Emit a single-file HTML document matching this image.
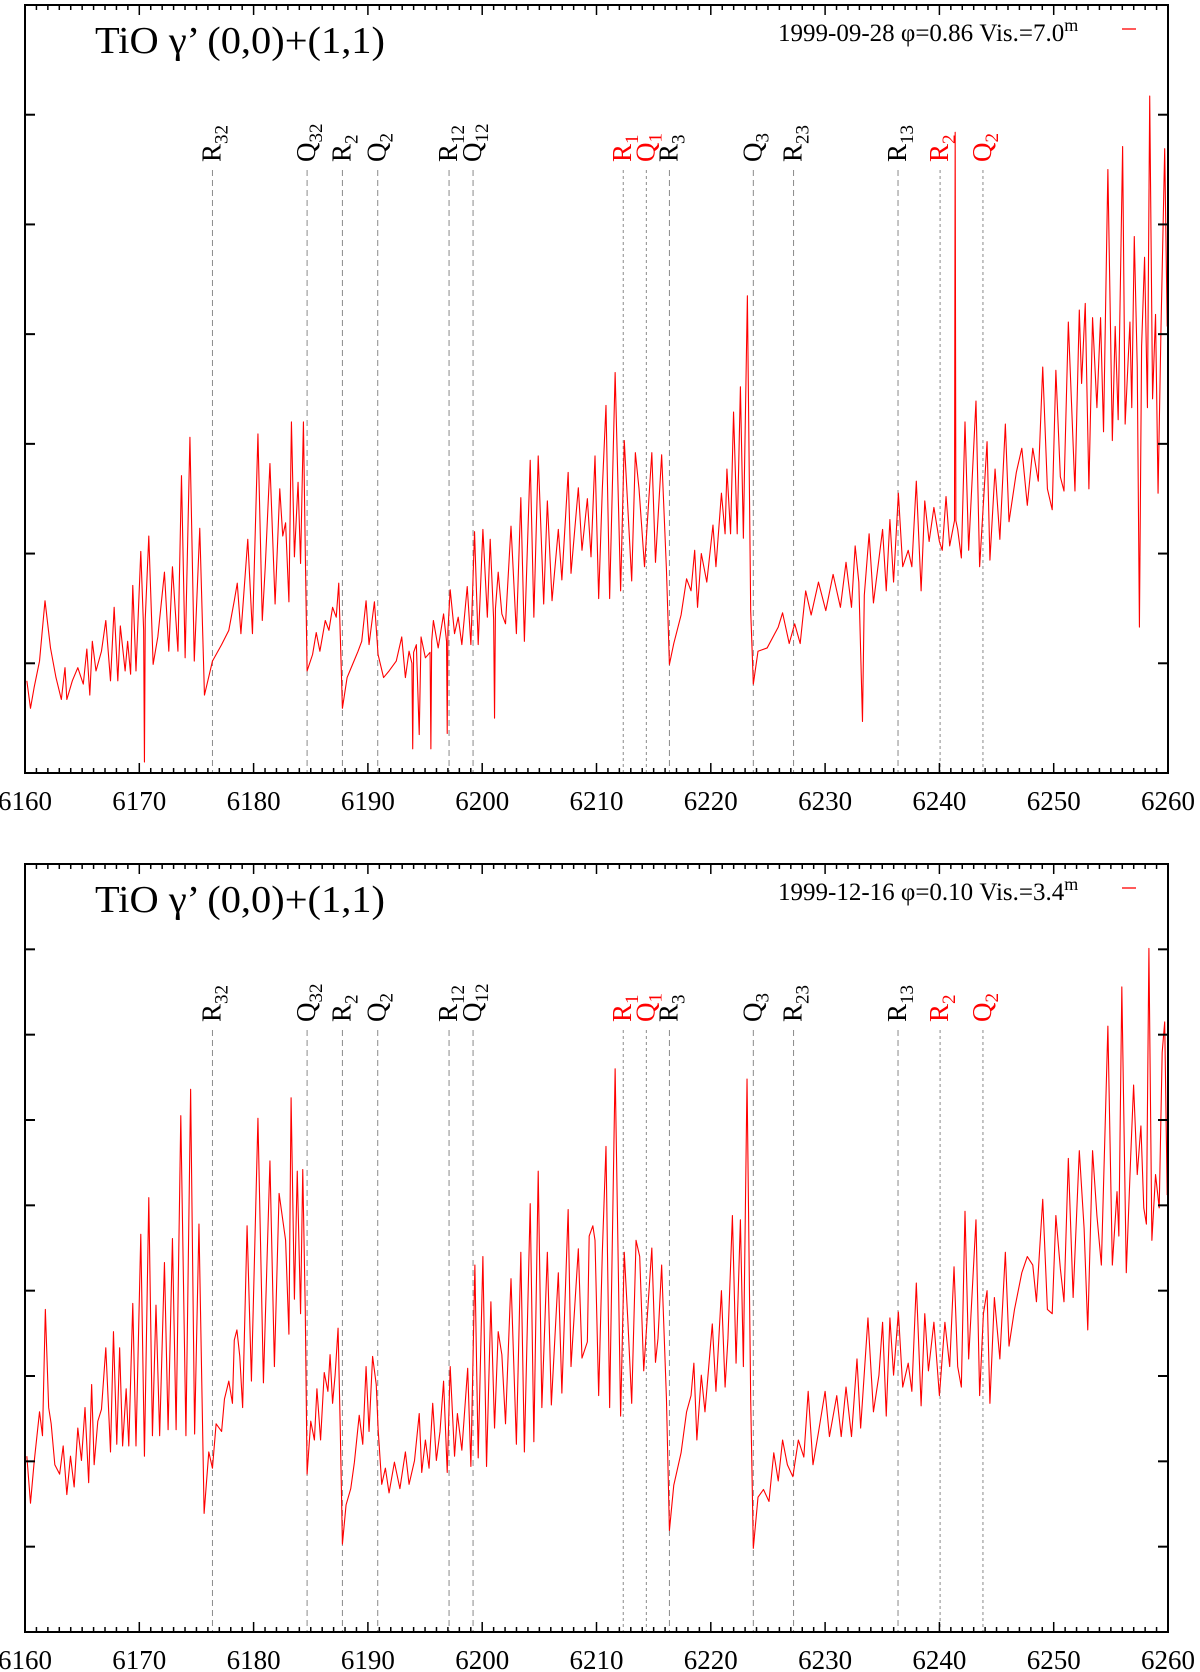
<!DOCTYPE html>
<html>
<head>
<meta charset="utf-8">
<style>
  html,body{margin:0;padding:0;background:#fff;}
  svg{display:block;}
  text{font-family:"Liberation Serif","DejaVu Serif",serif;}
</style>
</head>
<body>
<svg id="chart" xmlns="http://www.w3.org/2000/svg" width="1200" height="1672" viewBox="0 0 1200 1672"></svg>
<script>
// ---------------- DATA ----------------
const lambdaMin = 6160, lambdaMax = 6260;
const xTickLabels = ["6160","6170","6180","6190","6200","6210","6220","6230","6240","6250","6260"];
const lineNames = ["R|32","Q|32","R|2","Q|2","R|12","Q|12","R|1","Q|1","R|3","Q|3","R|23","R|13","R|2","Q|2"];
const lineLambdas = [6176.40,6184.68,6187.77,6190.86,6197.10,6199.20,6212.34,6214.36,6216.38,6223.72,6227.24,6236.38,6240.06,6243.81];
const lineIsRed = [0,0,0,0,0,0,1,1,0,0,0,0,1,1];

// Top spectrum (1999-09-28): wavelength offsets from 6160 Å and relative flux
const topOffsets = [0.16,0.48,0.80,1.27,1.75,2.23,2.71,3.18,3.50,3.66,4.14,4.62,5.10,5.41,5.67,5.89,6.21,6.69,7.07,7.48,7.80,8.12,8.34,8.76,8.98,9.24,9.43,9.71,10.13,10.38,10.45,10.52,10.83,11.21,11.62,12.20,12.58,12.90,13.38,13.69,14.01,14.43,14.81,15.29,15.70,16.40,17.20,17.83,18.31,18.57,18.89,19.49,19.90,20.38,20.76,21.02,21.43,21.88,22.29,22.55,22.80,23.09,23.31,23.57,23.89,24.11,24.36,24.52,24.68,25.16,25.48,25.80,26.27,26.59,26.91,27.23,27.45,27.77,28.18,28.66,29.14,29.46,29.84,30.10,30.57,30.89,31.37,31.85,32.48,32.96,33.28,33.60,33.85,33.92,34.00,34.24,34.49,34.65,35.03,35.44,35.51,35.58,35.73,36.15,36.62,36.88,36.94,37.00,37.20,37.58,37.90,38.22,38.69,39.01,39.33,39.65,40.06,40.45,40.70,41.00,41.08,41.16,41.40,41.72,42.04,42.52,42.99,43.38,43.69,44.20,44.52,44.90,45.38,45.70,46.11,46.66,46.97,47.52,47.77,48.41,48.73,49.20,49.52,
49.87,50.19,50.51,50.83,51.15,51.63,52.11,52.43,53.08,53.40,53.72,54.20,54.84,55.16,55.70,56.12,56.38,56.76,57.40,57.88,58.27,58.59,58.84,59.17,59.65,60.19,60.45,60.93,61.25,61.41,61.73,61.99,62.31,62.59,62.85,63.20,63.49,63.72,64.13,64.93,65.90,66.28,66.86,67.34,67.82,68.30,68.78,69.42,70.06,70.70,71.34,71.83,72.31,72.63,72.95,73.27,73.43,73.85,74.23,75.03,75.35,75.67,75.99,76.41,76.79,77.27,77.59,77.98,78.40,78.72,79.10,79.52,80.00,80.25,80.58,80.90,81.32,81.38,81.44,81.60,81.92,82.24,82.56,83.20,83.52,84.17,84.42,84.87,85.29,85.77,86.09,86.73,87.21,87.69,88.17,88.65,89.04,89.45,89.87,90.19,90.58,90.90,91.28,91.86,92.24,92.44,92.76,93.08,93.40,93.78,94.10,94.36,94.74,95.13,95.38,95.64,96.03,96.25,96.67,96.83,97.05,97.31,97.50,97.69,97.95,98.20,98.40,98.65,98.91,99.13,99.39,99.71,99.93];
const topFlux = [0.84,0.59,0.78,1.02,1.57,1.14,0.87,0.67,0.96,0.67,0.84,0.96,0.81,1.13,0.71,1.2,0.93,1.11,1.39,0.84,1.51,0.84,1.34,0.93,1.2,0.9,1.71,0.93,2.02,1.3,0.1,1.4,2.16,0.99,1.24,1.83,1.11,1.88,1.11,2.71,1.05,3.06,1.02,2.23,0.71,1.02,1.17,1.3,1.57,1.73,1.27,2.13,1.27,3.09,1.39,1.88,2.82,1.54,2.59,2.16,2.28,1.56,3.2,1.97,2.65,1.91,3.2,2.03,0.93,1.08,1.28,1.11,1.39,1.3,1.51,1.42,1.73,0.59,0.87,0.99,1.11,1.2,1.57,1.17,1.56,1.08,0.87,0.93,1.02,1.24,0.87,1.11,1.0,0.22,1.1,1.17,0.35,1.24,1.05,1.1,0.22,1.2,1.39,1.14,1.45,1.2,0.36,1.3,1.67,1.27,1.42,1.17,1.7,1.17,2.2,1.17,2.22,1.42,2.13,1.4,0.5,1.5,1.83,1.45,1.36,2.25,1.27,2.51,1.2,2.85,1.42,2.89,1.54,2.48,1.57,2.22,1.76,2.74,1.82,2.6,2.03,2.5,1.97,
2.89,1.59,2.59,3.35,1.59,3.65,1.66,3.03,1.75,2.92,2.59,1.88,2.92,1.92,2.9,1.85,0.99,1.18,1.44,1.77,1.66,2.03,1.51,2.0,1.74,2.26,1.88,2.55,2.18,2.77,2.18,3.29,2.18,3.52,2.14,4.35,1.48,0.81,1.11,1.14,1.33,1.46,1.18,1.36,1.18,1.66,1.44,1.74,1.48,1.81,1.51,1.92,1.51,2.07,1.74,0.47,1.62,2.18,1.55,2.22,1.66,2.31,1.74,2.55,1.88,2.03,1.88,2.66,1.66,2.48,2.11,2.42,2.11,2.03,2.52,2.07,2.3,5.84,2.3,2.22,1.96,3.2,2.03,3.39,1.88,3.02,1.94,2.77,2.13,3.18,2.29,2.74,2.96,2.44,2.96,2.66,3.7,2.59,2.4,3.67,2.7,2.57,4.11,2.57,4.22,3.55,4.28,2.59,4.15,3.33,4.15,3.11,5.5,3.03,4.07,3.22,5.71,3.18,4.11,3.33,4.89,3.7,1.33,3.89,4.7,3.33,6.17,3.41,4.18,2.55,4.07,5.69,4.07];

// Bottom spectrum (1999-12-16)
const bottomOffsets = [0.16,0.48,0.80,1.27,1.53,1.78,2.07,2.29,2.61,3.03,3.34,3.66,3.98,4.30,4.62,4.94,5.25,5.57,5.83,6.05,6.37,6.69,7.07,7.48,7.74,8.03,8.28,8.54,8.85,9.08,9.43,9.71,10.13,10.45,10.83,11.15,11.46,11.78,12.20,12.52,12.90,13.22,13.63,14.08,14.49,14.84,15.22,15.67,16.08,16.40,16.72,17.20,17.45,17.83,18.15,18.31,18.54,18.79,19.04,19.43,19.81,20.38,20.86,21.43,21.82,22.23,22.55,22.80,23.09,23.28,23.57,23.82,24.11,24.30,24.52,24.68,25.00,25.32,25.54,25.86,26.18,26.50,26.69,26.91,27.13,27.39,27.58,27.77,28.09,28.50,28.82,29.24,29.55,29.84,30.10,30.41,30.73,30.89,31.21,31.53,31.85,32.32,32.80,33.28,33.60,34.08,34.49,34.71,35.03,35.35,35.67,35.99,36.31,36.62,36.94,37.20,37.58,37.83,38.22,38.73,39.01,39.36,39.65,40.06,40.38,40.76,41.08,41.40,41.72,42.04,42.52,42.99,43.38,43.69,44.20,44.52,44.90,45.22,45.70,46.05,46.66,46.97,47.52,47.77,48.41,48.73,49.20,49.36,49.68,
49.87,50.19,50.51,50.83,51.15,51.63,52.11,52.43,52.75,53.08,53.46,53.78,54.13,54.84,55.16,55.38,55.70,56.12,56.38,56.76,57.40,57.88,58.27,58.52,58.78,59.17,59.49,60.13,60.45,60.93,61.25,61.50,61.89,62.21,62.59,62.85,63.17,63.49,63.72,64.13,64.61,65.09,65.51,65.90,66.28,66.70,67.18,67.66,68.14,68.52,68.94,69.42,70.00,70.38,71.02,71.41,71.83,72.31,72.79,73.11,73.75,74.23,74.71,75.03,75.35,75.67,75.99,76.41,76.79,77.27,77.59,77.98,78.40,78.72,79.04,79.52,80.00,80.48,80.90,81.28,81.60,81.92,82.24,82.56,83.20,83.52,83.85,84.17,84.42,84.81,85.29,85.77,86.09,86.57,87.21,87.69,88.17,88.49,89.04,89.45,89.87,90.19,90.58,90.90,91.28,91.70,92.24,92.66,92.98,93.40,93.78,94.17,94.74,95.13,95.54,95.70,95.96,96.35,96.73,96.99,97.31,97.63,97.88,98.11,98.33,98.59,98.91,99.23,99.49,99.71,99.93];
const bottomFlux = [2.06,1.51,1.99,2.58,2.3,3.78,2.63,2.44,1.96,1.85,2.18,1.61,2.06,1.7,2.39,2.01,2.63,1.75,2.9,1.96,2.47,2.61,3.33,2.11,3.52,2.2,3.33,2.18,2.85,2.18,3.85,2.18,4.66,2.06,5.09,2.3,3.83,2.3,4.33,2.37,4.61,2.37,6.05,2.3,6.36,2.32,4.78,1.39,2.11,1.92,2.44,2.35,2.73,2.94,2.68,3.42,3.54,3.23,2.63,4.76,2.94,6.02,2.92,5.52,3.11,5.14,4.83,4.59,3.49,6.26,3.9,5.4,3.73,5.42,3.78,1.85,2.47,2.25,2.85,2.25,3.04,2.82,3.25,2.68,3.01,3.56,2.39,1.03,1.49,1.68,1.99,2.54,2.2,3.11,2.35,3.23,2.9,2.39,1.73,1.92,1.63,1.99,1.68,2.11,1.73,2.01,2.56,1.87,2.25,1.92,2.68,2.01,2.35,2.94,1.87,3.11,2.06,2.56,2.13,3.09,1.94,4.3,2.04,4.4,1.94,3.87,2.39,3.52,3.25,2.44,4.14,2.2,4.45,2.11,5.02,2.23,5.4,2.63,4.45,2.66,4.21,2.8,4.95,3.11,4.49,3.21,3.4,4.64,4.76,
4.59,2.77,4.45,5.69,2.63,6.6,2.53,4.45,3.63,2.68,4.59,4.4,3.06,4.5,3.16,3.44,4.3,2.73,1.19,1.72,2.1,2.58,2.77,3.15,2.25,3.01,2.58,3.61,2.82,4.0,2.87,3.44,4.88,3.15,4.83,3.11,6.48,2.73,0.98,1.58,1.67,1.53,2.1,1.77,2.25,1.96,1.82,2.25,2.05,2.82,1.96,2.34,2.82,2.29,2.77,2.29,2.87,2.29,3.2,2.39,3.68,2.58,3.01,3.63,2.53,3.68,3.01,3.75,2.87,3.15,2.82,4.09,2.65,3.73,3.06,3.63,2.77,3.63,3.11,4.28,3.11,2.87,4.93,3.2,4.83,2.77,3.73,4.0,2.68,3.92,3.2,4.45,3.35,3.78,4.21,4.4,4.3,3.87,5.07,3.78,3.73,4.88,4.26,3.87,5.55,3.92,5.64,4.73,3.54,5.64,4.88,4.3,7.1,4.3,5.16,4.64,7.56,4.21,5.55,6.41,5.36,5.93,4.97,4.78,8.01,4.59,5.36,4.97,6.79,7.15,5.12];

// ---------------- DRAW ----------------
const NS = "http://www.w3.org/2000/svg";
const svg = document.getElementById("chart");
const X0 = 25, X1 = 1168;
function xScale(l){ return X0 + (l - lambdaMin) / (lambdaMax - lambdaMin) * (X1 - X0); }
function mk(tag, attrs, parent){
  const e = document.createElementNS(NS, tag);
  for (const k in attrs) e.setAttribute(k, attrs[k]);
  (parent || svg).appendChild(e);
  return e;
}

const panels = [
  {key:"top", y0:5, y1:773, ymax:7, offs:topOffsets, flux:topFlux,
   legend:"1999-09-28 φ=0.86 Vis.=7.0", labelY:162, dashTop:170},
  {key:"bottom", y0:864, y1:1632, ymax:9, offs:bottomOffsets, flux:bottomFlux,
   legend:"1999-12-16 φ=0.10 Vis.=3.4", labelY:1022, dashTop:1030}
];

panels.forEach(function(p){
  const g = mk("g", {});
  
  
  const yScale = function(v){ return p.y1 - v / p.ymax * (p.y1 - p.y0); };

  // identification lines
  lineLambdas.forEach(function(l, i){
    const x = xScale(l);
    const dl = mk("line", {x1:x, x2:x, y1:p.dashTop, y2:p.y1, stroke:"#8a8a8a", "stroke-width":1,
      "stroke-dasharray": lineIsRed[i] ? "3,3" : "6,4"}, g);
    
    
    const parts = lineNames[i].split("|");
    const t = mk("text", {transform:"translate(" + (x + 8) + "," + p.labelY + ") rotate(-90)",
      "font-size":27, fill: lineIsRed[i] ? "#ff0000" : "#000"}, g);
    
    
    t.appendChild(document.createTextNode(parts[0]));
    const s = mk("tspan", {"font-size":19, dy:7}, t);
    s.textContent = parts[1];
  });

  // spectrum
  let d = "";
  for (let i = 0; i < p.offs.length; i++){
    d += (i ? "L" : "M") + xScale(lambdaMin + p.offs[i]).toFixed(2) + "," + yScale(p.flux[i]).toFixed(2);
  }
  const path = mk("path", {d:d, fill:"none", stroke:"#ff0000", "stroke-width":1.1, "stroke-linejoin":"round"}, g);
  
  

  // frame
  const fr = mk("rect", {x:X0, y:p.y0, width:X1 - X0, height:p.y1 - p.y0, fill:"none", stroke:"#000", "stroke-width":2}, g);
  
  

  // x ticks
  for (let l = lambdaMin; l <= lambdaMax; l++){
    const x = xScale(l);
    const len = (l % 10 === 0) ? 10 : 5;
    const tb = mk("line", {x1:x, x2:x, y1:p.y1, y2:p.y1 - len, stroke:"#000", "stroke-width":1.5}, g);
    
    
    const tt = mk("line", {x1:x, x2:x, y1:p.y0, y2:p.y0 + len, stroke:"#000", "stroke-width":1.5}, g);
    
    
  }
  xTickLabels.forEach(function(lbl){
    const x = xScale(+lbl);
    const t = mk("text", {x:x, y:p.y1 + 37, "font-size":27, "text-anchor":"middle", fill:"#000"}, g);
    
    
    t.textContent = lbl;
  });

  // y ticks
  for (let v = 1; v < p.ymax; v++){
    const y = yScale(v);
    const a = mk("line", {x1:X0, x2:X0 + 10, y1:y, y2:y, stroke:"#000", "stroke-width":2}, g);
    
    
    const b = mk("line", {x1:X1, x2:X1 - 10, y1:y, y2:y, stroke:"#000", "stroke-width":2}, g);
    
    
  }

  // title
  const ti = mk("text", {x:95, y:p.y0 + 48, "font-size":38, fill:"#000", textLength:290, lengthAdjust:"spacingAndGlyphs"}, g);
  
  
  ti.textContent = "TiO γ’ (0,0)+(1,1)";

  // legend
  const lg = mk("text", {x:778, y:p.y0 + 36, "font-size":25, fill:"#000"}, g);
  
  
  lg.appendChild(document.createTextNode(p.legend));
  const sup = mk("tspan", {"font-size":18, dy:-10}, lg);
  sup.textContent = "m";
  const ll = mk("line", {x1:1122, x2:1136, y1:p.y0 + 24, y2:p.y0 + 24, stroke:"#ff0000", "stroke-width":1.3}, g);
  
  
});
</script>
</body>
</html>
